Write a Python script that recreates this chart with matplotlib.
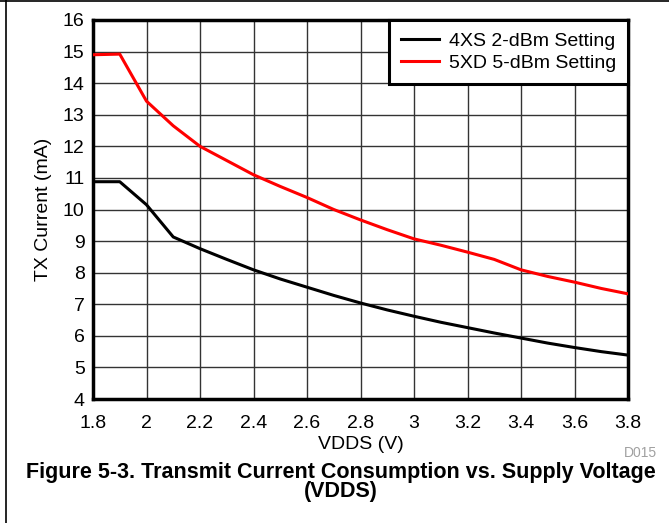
import matplotlib
matplotlib.use("Agg")
import matplotlib.pyplot as plt
from matplotlib.lines import Line2D

plt.rcParams['font.family'] = ['Liberation Sans', 'DejaVu Sans']

vdds = [1.8, 1.9, 2.0, 2.1, 2.2, 2.3, 2.4, 2.5, 2.6, 2.7, 2.8, 2.9, 3.0, 3.1, 3.2, 3.3, 3.4, 3.5, 3.6, 3.7, 3.8]
i_4xs = [10.88, 10.88, 10.15, 9.13, 8.76, 8.42, 8.09, 7.80, 7.54, 7.28, 7.04, 6.82, 6.62, 6.43, 6.26, 6.09, 5.93, 5.77, 5.63, 5.50, 5.39]
i_5xd = [14.9, 14.92, 13.43, 12.65, 12.0, 11.55, 11.1, 10.73, 10.38, 10.0, 9.67, 9.36, 9.07, 8.87, 8.65, 8.42, 8.09, 7.88, 7.70, 7.50, 7.33]
labels = ["4XS 2-dBm Setting", "5XD 5-dBm Setting"]
xticks = [1.8, 2.0, 2.2, 2.4, 2.6, 2.8, 3.0, 3.2, 3.4, 3.6, 3.8]
xticklabels = ["1.8", "2", "2.2", "2.4", "2.6", "2.8", "3", "3.2", "3.4", "3.6", "3.8"]
yticks = list(range(4, 17))

W, H = 669, 523
fig = plt.figure(figsize=(W / 100, H / 100), dpi=100)
ax = fig.add_axes([93 / W, 1 - 399 / H, (628 - 93) / W, (399 - 20) / H])

ax.plot(vdds, i_4xs, color="black", lw=2.2, label=labels[0], zorder=3)
ax.plot(vdds, i_5xd, color="#ff0000", lw=2.2, label=labels[1], zorder=3)

ax.set_xlim(1.8, 3.8)
ax.set_ylim(4, 16)
ax.set_xticks(xticks)
ax.set_xticklabels(xticklabels)
ax.set_yticks(yticks)
ax.tick_params(length=0, labelsize=14)
ax.tick_params(axis="x", pad=11.5)
ax.tick_params(axis="y", pad=6)
ax.grid(True, color="#333333", lw=1.0)
ax.set_axisbelow(True)
for s in ax.spines.values():
    s.set_linewidth(2.5)
    s.set_color("black")

ax.set_xlabel("VDDS (V)", fontsize=14, labelpad=3)
ax.set_ylabel("TX Current (mA)", fontsize=14, labelpad=8)

leg = ax.legend(loc="upper right", fontsize=14, frameon=True, fancybox=False,
                borderaxespad=0, handlelength=1.95, handletextpad=0.5,
                labelspacing=0.25, borderpad=0.62)
leg.get_frame().set_edgecolor("black")
leg.get_frame().set_linewidth(2.2)
leg.get_frame().set_alpha(1)

fig.text(657 / W, 1 - 453 / H, "D015", ha="right", va="center", fontsize=10, color="#a0a0a0")
fig.text(341 / W, 1 - 482 / H, "Figure 5-3. Transmit Current Consumption vs. Supply Voltage\n(VDDS)",
         ha="center", va="center", fontsize=15.5, fontweight="bold", linespacing=0.92,
         multialignment="center")

fig.add_artist(Line2D([0, 1], [1 - 1 / H, 1 - 1 / H], transform=fig.transFigure, color="black", lw=1.2))
fig.add_artist(Line2D([6 / W, 6 / W], [0, 1], transform=fig.transFigure, color="black", lw=1.2))

fig.savefig("out.png", dpi=100)
